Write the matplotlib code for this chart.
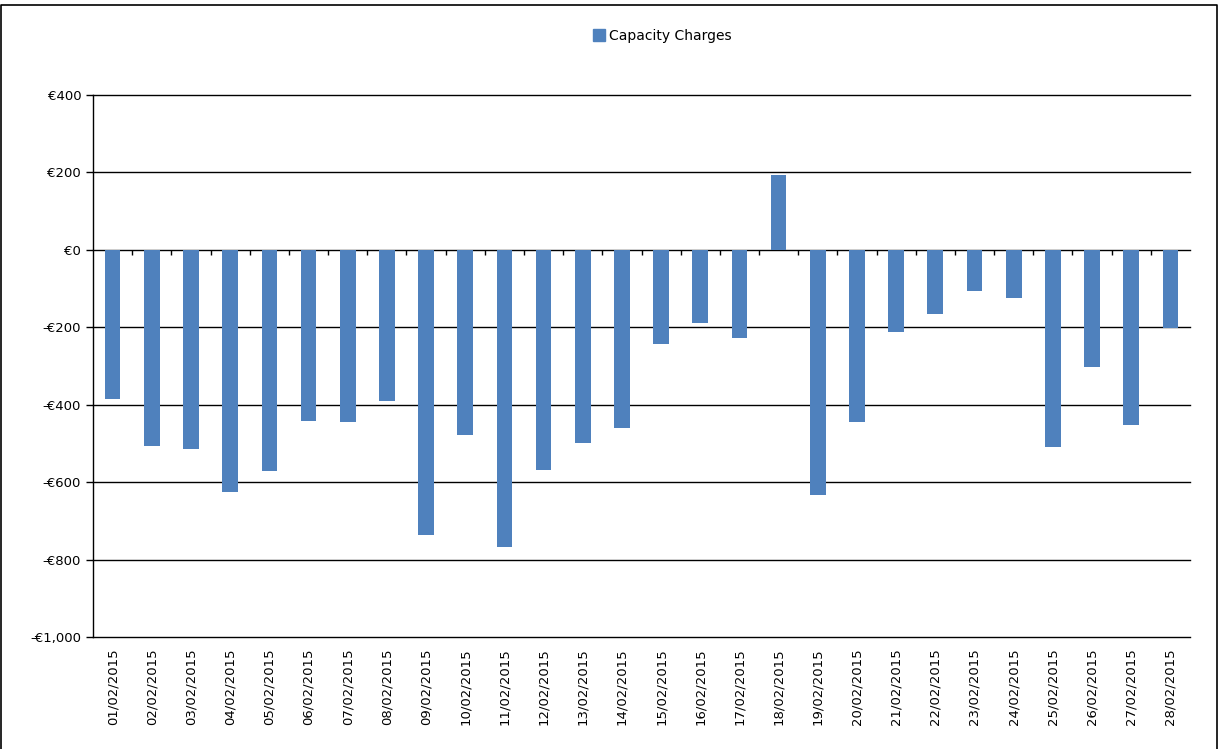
import numpy as np
import matplotlib.pyplot as plt
from matplotlib.lines import Line2D

# daily capacity charges, Feb 2015
dates = [f'{d:02d}/02/2015' for d in range(1, 29)]
charges = [-385, -506, -514, -625, -571, -442, -444, -390, -736, -478,
           -767, -568, -499, -460, -243, -189, -227, 194, -633, -444,
           -212, -165, -106, -124, -509, -302, -452, -202]
yticks = [-1000, -800, -600, -400, -200, 0, 200, 400]
ytick_labels = ['-€1,000', '-€800', '-€600', '-€400', '-€200', '€0', '€200', '€400']
bar_color = '#4F81BD'

plt.rcParams['font.family'] = ['DejaVu Sans']
fig = plt.figure(figsize=(12.26, 7.49), dpi=100)
ax = fig.add_axes([0.0759, 0.1495, 0.8947, 0.7237])

x = np.arange(len(dates))
ax.bar(x, charges, width=0.4, color=bar_color, zorder=3)

ax.set_xlim(-0.5, len(dates) - 0.5)
ax.set_ylim(-1000, 400)
ax.set_yticks(yticks)
ax.set_yticklabels(ytick_labels, fontsize=9.5)
for y in yticks:
    ax.axhline(y, color='black', lw=1, zorder=1, clip_on=False)

ax.set_xticks(x)
ax.set_xticklabels(dates, rotation=90, fontsize=9.5)
ax.tick_params(axis='x', length=0, pad=8)
ax.tick_params(axis='y', length=5, width=1, color='black')

# category boundary ticks on the zero line
bounds = np.arange(-0.5, len(dates), 1.0)
ax.vlines(bounds[1:-1], 0, -14, color='black', lw=1, zorder=2)

for s in ['top', 'right', 'bottom']:
    ax.spines[s].set_visible(False)
ax.spines['left'].set_color('black')
ax.spines['left'].set_linewidth(1)

handle = Line2D([], [], marker='s', color='none', markerfacecolor=bar_color,
                markeredgecolor=bar_color, markersize=8)
fig.legend([handle], ['Capacity Charges'], loc='center', bbox_to_anchor=(0.54, 0.952),
           frameon=False, fontsize=10, handletextpad=0.2, handlelength=1)

# outer chart frame
fig.add_artist(Line2D([0.001, 0.001, 0.9927, 0.9927], [0, 0.9933, 0.9933, 0],
                      transform=fig.transFigure, color='black', lw=1.2))

fig.savefig('out.png', dpi=100)
